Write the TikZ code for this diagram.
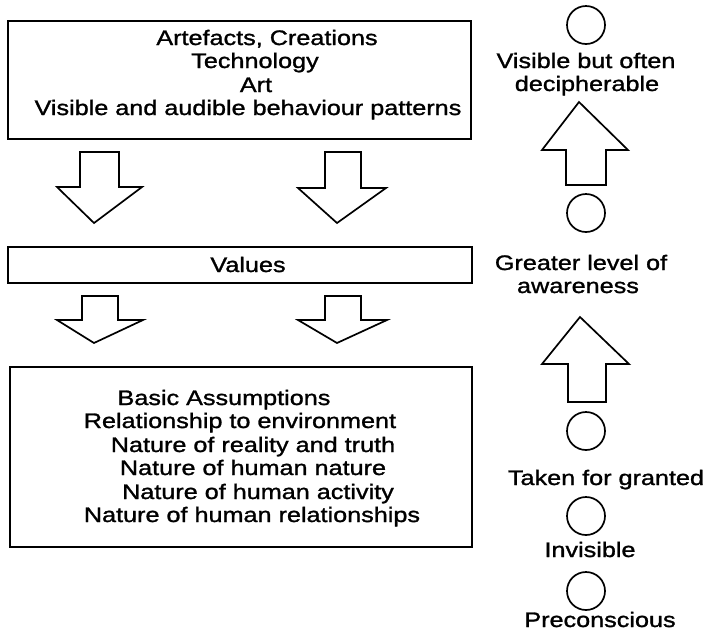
\documentclass[tikz,border=0pt]{standalone}
\usepackage{fontspec}
\setmainfont{Liberation Sans}[FakeStretch=1.2, FakeBold=1.3]
\begin{document}
\begin{tikzpicture}[x=1pt, y=-1pt,
  box/.style={draw, line width=1.7pt, inner sep=0pt},
  blockarrow/.style={draw, line width=1.7pt, line join=miter, fill=white},
  ring/.style={draw, circle, line width=1.7pt, minimum size=38pt, inner sep=0pt},
  lbl/.style={anchor=base, inner sep=0pt, font=\fontsize{21}{25}\selectfont}]
\useasboundingbox (0,0) rectangle (710,633);

% three levels
\node[box, minimum width=463pt, minimum height=118pt] (artefacts) at (239.5,80) {};
\node[box, minimum width=464pt, minimum height=36pt] (values) at (240,265) {};
\node[box, minimum width=462pt, minimum height=180pt] (assumptions) at (241,457) {};

% artefacts text
\node[lbl] (a1) at (267,45) {Artefacts, Creations};
\node[lbl] (a2) at (255,68) {Technology};
\node[lbl] (a3) at (256,92) {Art};
\node[lbl] (a4) at (248,115) {Visible and audible behaviour patterns};

% values text
\node[lbl] (v1) at (248,272) {Values};

% basic assumptions text
\node[lbl] (b1) at (224,405) {Basic Assumptions};
\node[lbl] (b2) at (240,428) {Relationship to environment};
\node[lbl] (b3) at (253,452) {Nature of reality and truth};
\node[lbl] (b4) at (253,475) {Nature of human nature};
\node[lbl] (b5) at (258,499) {Nature of human activity};
\node[lbl] (b6) at (252,522) {Nature of human relationships};

% block arrows between the levels
\draw[blockarrow] (80,152) -- (119,152) -- (119,187) -- (142,187) -- (94,223) -- (57,187) -- (80,187) -- cycle;
\draw[blockarrow] (325,152) -- (361,152) -- (361,188) -- (386,188) -- (337,223) -- (298,188) -- (325,188) -- cycle;
\draw[blockarrow] (82,296) -- (118,296) -- (118,320) -- (143,320) -- (94,343) -- (57,320) -- (82,320) -- cycle;
\draw[blockarrow] (325,296) -- (361,296) -- (361,320) -- (387,320) -- (337,343) -- (298,320) -- (325,320) -- cycle;

% awareness scale
\node[ring] (c1) at (586,25) {};
\node[lbl] (r1) at (586,68) {Visible but often};
\node[lbl] (r2) at (587,91) {decipherable};
\draw[blockarrow] (566,185) -- (606,185) -- (606,150) -- (628,150) -- (579,102) -- (542,150) -- (566,150) -- cycle;
\node[ring] (c2) at (586,213) {};
\node[lbl] (r3) at (581,270) {Greater level of};
\node[lbl] (r4) at (578,293) {awareness};
\draw[blockarrow] (568,402) -- (606,402) -- (606,364) -- (629,364) -- (580,317) -- (542,364) -- (568,364) -- cycle;
\node[ring] (c3) at (586,431) {};
\node[lbl] (r5) at (606,485) {Taken for granted};
\node[ring] (c4) at (586,516) {};
\node[lbl] (r6) at (590,557) {Invisible};
\node[ring] (c5) at (586,591) {};
\node[lbl] (r7) at (600,627) {Preconscious};
\end{tikzpicture}
\end{document}
